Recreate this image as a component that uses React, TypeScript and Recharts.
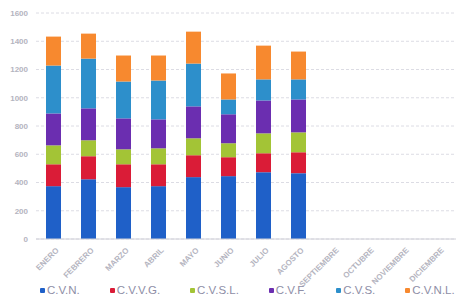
import React from 'react';
import { BarChart, Bar, XAxis, YAxis, CartesianGrid, Legend } from 'recharts';

const months = ['ENERO', 'FEBRERO', 'MARZO', 'ABRIL', 'MAYO', 'JUNIO', 'JULIO', 'AGOSTO', 'SEPTIEMBRE', 'OCTUBRE', 'NOVIEMBRE', 'DICIEMBRE'];
const cvn = [374, 423, 367, 374, 438, 445, 473, 466, null, null, null, null];
const cvvg = [155, 163, 162, 155, 155, 134, 134, 148, null, null, null, null];
const cvsl = [134, 113, 106, 113, 120, 99, 141, 141, null, null, null, null];
const cvf = [226, 226, 219, 205, 226, 205, 233, 233, null, null, null, null];
const cvs = [339, 352, 261, 275, 303, 105, 149, 142, null, null, null, null];
const cvnl = [205, 177, 184, 177, 226, 184, 239, 197, null, null, null, null];
const yTicks = [0, 200, 400, 600, 800, 1000, 1200, 1400, 1600];

const series = [
  { key: 'cvn', name: 'C.V.N.', color: '#1F60C8', values: cvn },
  { key: 'cvvg', name: 'C.V.V.G.', color: '#DA1C37', values: cvvg },
  { key: 'cvsl', name: 'C.V.S.L.', color: '#A3C436', values: cvsl },
  { key: 'cvf', name: 'C.V.F.', color: '#6B2EB0', values: cvf },
  { key: 'cvs', name: 'C.V.S.', color: '#2D8FCB', values: cvs },
  { key: 'cvnl', name: 'C.V.N.L.', color: '#F7892F', values: cvnl },
];

const data = months.map((m, i) => {
  const row: Record<string, any> = { month: m };
  series.forEach((s) => {
    row[s.key] = s.values[i];
  });
  return row;
});

const XTick = (props: any) => {
  const { x, y, payload } = props;
  return (
    <g transform={`translate(${x + 3},${y + 1})`}>
      <text x={0} y={0} dy={4} textAnchor="end" transform="rotate(-45)" fontSize={8} fontWeight="bold" fill="#b4b4c0" fontFamily="Liberation Sans, Arial, sans-serif">
        {payload.value}
      </text>
    </g>
  );
};

const LegendContent = () => (
  <div style={{ display: 'flex', alignItems: 'center', paddingLeft: 40, fontFamily: 'Liberation Sans, Arial, sans-serif', fontSize: 11.5, color: '#8e8ea6' }}>
    {series.map((s) => (
      <div key={s.key} style={{ display: 'flex', alignItems: 'center', marginRight: 30 }}>
        <span style={{ display: 'inline-block', width: 5, height: 5, borderRadius: 1, background: s.color, marginRight: 2 }} />
        <span>{s.name}</span>
      </div>
    ))}
  </div>
);

export default function App() {
  return (
    <div style={{ position: 'fixed', left: 0, top: 0, width: 456, height: 304, background: '#fff' }}>
      <BarChart width={456} height={304} data={data} margin={{ top: 13, right: 0, left: 0, bottom: 0 }} barSize={15}>
        <CartesianGrid vertical={false} stroke="#dcdce4" strokeDasharray="3 2" />
        <XAxis dataKey="month" interval={0} tick={<XTick />} tickLine={false} axisLine={{ stroke: '#d0d0d8' }} height={45} />
        <YAxis domain={[0, 1600]} ticks={yTicks} width={36} tickLine={false} axisLine={false} tick={{ fontSize: 8, fill: '#b4b4c0', fontWeight: 'bold', fontFamily: 'Liberation Sans, Arial, sans-serif' }} />
        <Legend verticalAlign="bottom" height={20} content={<LegendContent />} />
        {series.map((s) => (
          <Bar key={s.key} dataKey={s.key} name={s.name} stackId="a" fill={s.color} isAnimationActive={false} />
        ))}
      </BarChart>
    </div>
  );
}
